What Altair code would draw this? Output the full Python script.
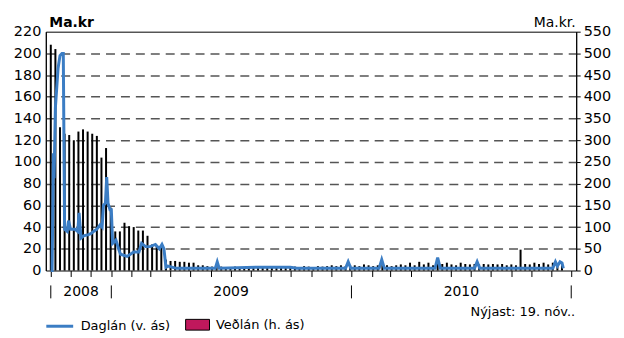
import altair as alt
import pandas as pd

# ---------------- data ----------------
bar_dates = pd.date_range("2008-10-01", periods=112, freq="7D").strftime("%Y-%m-%d").tolist()
bar_values = [
    520, 510, 330, 315, 312, 300, 320, 325, 320, 315, 310, 260, 282, 145, 90, 90,
    110, 102, 100, 92, 92, 80, 60, 58, 58, 25, 22, 22, 20, 20, 18, 18, 12, 12,
    10, 9, 8, 9, 8, 8, 9, 8, 8, 9, 8, 8, 8, 9, 8, 8, 9, 8, 8, 9, 8, 10, 9, 8,
    10, 9, 10, 12, 10, 12, 10, 12,
    12, 10, 14, 12, 10, 12, 15, 12, 10, 12, 14, 12, 18, 12, 20, 14, 18, 12, 20, 15,
    18, 14, 12, 18, 15, 14, 15, 14, 15, 14, 15, 14, 15, 12, 14, 12, 48, 15, 14, 18,
    15, 18, 14, 18, 15, 12,
]

line_dates = [
    "2008-10-01", "2008-10-03", "2008-10-05", "2008-10-06", "2008-10-08", "2008-10-12",
    "2008-10-15", "2008-10-18", "2008-10-20", "2008-10-22", "2008-10-26", "2008-10-28",
    "2008-10-31", "2008-11-07", "2008-11-11", "2008-11-13", "2008-11-16", "2008-11-20",
    "2008-11-27", "2008-12-01", "2008-12-05", "2008-12-10", "2008-12-15", "2008-12-18",
    "2008-12-20", "2008-12-23", "2008-12-25", "2008-12-27", "2008-12-30", "2009-01-01",
    "2009-01-03", "2009-01-08", "2009-01-12", "2009-01-15", "2009-01-25", "2009-02-04",
    "2009-02-12", "2009-02-16", "2009-02-22", "2009-03-01", "2009-03-09", "2009-03-15",
    "2009-03-19", "2009-03-22", "2009-03-25", "2009-03-28", "2009-04-10", "2009-06-08",
    "2009-06-11", "2009-06-14", "2009-08-10", "2009-09-30", "2009-10-10", "2009-12-23",
    "2009-12-27", "2009-12-31", "2010-02-12", "2010-02-16", "2010-02-20", "2010-05-08",
    "2010-05-12", "2010-05-16", "2010-07-07", "2010-07-11", "2010-07-15", "2010-11-03",
    "2010-11-07", "2010-11-10", "2010-11-14", "2010-11-17", "2010-11-19",
]
line_values = [
    0, 0, 108, 85, 150, 186,
    198, 200, 200, 38, 36, 46,
    38, 38, 36, 53, 30, 32,
    33, 34, 36, 38, 42, 40,
    60, 62, 86, 62, 56, 56,
    25, 28, 20, 15, 13, 17,
    17, 25, 22, 22, 24, 20,
    24, 20, 3, 4, 2, 2,
    8, 2, 3, 3, 2, 2,
    8, 2, 2, 10, 2, 2,
    12, 2, 2, 8, 2, 2,
    8, 4, 8, 7, 2,
]

year_labels = ["2008", "2009", "2010"]
year_bounds = ["2008-10-01", "2009-01-01", "2010-01-01", "2010-12-01"]

line_name = "Daglán (v. ás)"
bar_name = "Veðlán (h. ás)"
note = "Nýjast: 19. nóv.."

# ---------------- tables ----------------
bars_df = pd.DataFrame({"date": bar_dates, "value": bar_values})
line_df = pd.DataFrame({"date": line_dates, "value": line_values, "series": line_name})
bounds = pd.to_datetime(year_bounds)
mids = [(bounds[i] + (bounds[i + 1] - bounds[i]) / 2).strftime("%Y-%m-%d") for i in range(3)]
years_df = pd.DataFrame({"date": mids, "label": year_labels})
bounds_df = pd.DataFrame({"date": year_bounds})

W, H = 533, 240
FONT = "DejaVu Sans"
BLUE = "#3b7dc4"
CRIMSON = "#c0185c"

x_scale = alt.Scale(
    type="utc",
    domain=[alt.DateTime(year=2008, month=10, date=1, utc=True),
            alt.DateTime(year=2010, month=12, date=1, utc=True)],
)
x_axis = alt.Axis(
    labels=False, title=None, tickSize=6, tickColor="black", tickWidth=1,
    domain=False, grid=False, tickCount={"interval": "month", "step": 1},
)
x_enc = alt.X("date:T", scale=x_scale, axis=x_axis)

bars = alt.Chart(bars_df).mark_bar(width=2, color="black").encode(
    x=x_enc,
    y=alt.Y(
        "value:Q",
        scale=alt.Scale(domain=[0, 550], nice=False),
        axis=alt.Axis(
            orient="right", values=list(range(0, 551, 50)), title="Ma.kr.",
            titleAngle=0, titleAlign="right", titleBaseline="alphabetic",
            titleX=-1, titleY=-5, titleFontSize=14, titleFontWeight="normal",
            labelFontSize=14.5, tickSize=4, tickColor="black", labelPadding=3,
            domainColor="black", grid=False, labelColor="black", titleColor="black",
        ),
    ),
)

line = alt.Chart(line_df).mark_line(strokeWidth=3, color=BLUE).encode(
    x=x_enc,
    y=alt.Y(
        "value:Q",
        scale=alt.Scale(domain=[0, 220], nice=False),
        axis=alt.Axis(
            orient="left", values=list(range(0, 221, 20)), title="Ma.kr",
            titleAngle=0, titleAlign="left", titleBaseline="alphabetic",
            titleX=3, titleY=-5, titleFontSize=14, titleFontWeight="bold",
            labelFontSize=14.5, tickSize=0, labelPadding=5,
            domainColor="black", grid=True, gridDash=[9, 6], gridColor="#555555",
            gridWidth=1.5,
            gridOpacity={"condition": {"test": "datum.value === 0 || datum.value === 220", "value": 0}, "value": 1},
            labelColor="black", titleColor="black",
        ),
    ),
    color=alt.Color(
        "series:N",
        scale=alt.Scale(domain=[line_name], range=[BLUE]),
        legend=alt.Legend(
            orient="none", legendX=-1, legendY=281, title=None, symbolType="stroke",
            symbolSize=729, symbolStrokeWidth=3, labelFontSize=13, labelOffset=6,
            labelColor="black", padding=0,
        ),
    ),
)

legend_bar = alt.Chart(alt.Data(values=[{"series": bar_name}])).transform_filter(
    "false"
).mark_square(opacity=1, filled=True).encode(
    fill=alt.Fill(
        "series:N",
        scale=alt.Scale(domain=[bar_name], range=[CRIMSON]),
        legend=alt.Legend(
            orient="none", legendX=140, legendY=282, title=None,
            symbolType="M-1,-0.45H1V0.45H-1Z", symbolSize=576,
            symbolStrokeColor="black", symbolStrokeWidth=1, symbolOpacity=1,
            symbolFillColor=CRIMSON,
            labelFontSize=13, labelOffset=6, labelColor="black", padding=0,
        ),
    ),
)

year_text = alt.Chart(years_df).mark_text(fontSize=14, baseline="middle", color="black").encode(
    x=x_enc, y=alt.value(H + 22), text="label:N"
)
year_rules = alt.Chart(bounds_df).mark_rule(color="black", strokeWidth=1).encode(
    x=x_enc, y=alt.value(H + 15), y2=alt.value(H + 28)
)
note_text = alt.Chart(alt.Data(values=[{"t": note}])).mark_text(
    fontSize=13, align="right", baseline="middle", color="black"
).encode(x=alt.value(W - 1), y=alt.value(H + 42), text="t:N")

chart = (
    alt.layer(bars, line, legend_bar, year_rules, year_text, note_text)
    .resolve_scale(y="independent", color="independent", fill="independent")
    .properties(
        width=W, height=H,
        autosize=alt.AutoSizeParams(type="none"),
        padding={"left": 38, "top": 23, "right": 40, "bottom": 62},
    )
    .configure(font=FONT)
    .configure_view(stroke="black", strokeWidth=1)
    .configure_axis(labelFont=FONT, titleFont=FONT)
)

chart.save("out.html", embed_options={"renderer": "svg", "actions": False})
